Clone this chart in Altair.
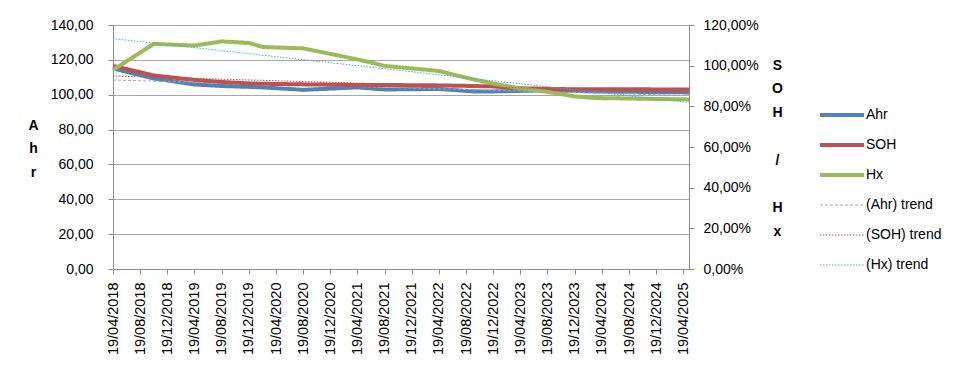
import altair as alt
import pandas as pd

# ---- data ----
dates = ["2018/04/19", "2018/10/19", "2019/04/19", "2019/08/19", "2019/12/19",
         "2020/02/19", "2020/08/19", "2021/04/19", "2021/08/19", "2022/04/19",
         "2022/09/19", "2022/12/19", "2023/04/19", "2023/08/19", "2023/12/19",
         "2024/03/19", "2025/05/15"]
ahr = [115.1, 109.3, 105.9, 105.0, 104.5, 104.2, 102.8, 104.2, 103.0, 103.3,
       101.9, 101.9, 102.2, 102.5, 102.2, 101.9, 101.3]
soh = [99.9, 95.2, 93.0, 92.0, 91.3, 91.1, 90.8, 90.5, 90.5, 90.3,
       90.0, 89.8, 88.9, 88.6, 88.4, 88.4, 88.3]          # percent
hx = [97.9, 110.7, 109.9, 111.9, 111.2, 109.2, 108.5, 103.1, 99.9, 97.4,
      93.3, 91.2, 88.8, 87.1, 84.9, 84.1, 83.4]            # percent

tick_years = [2018, 2018, 2018, 2019, 2019, 2019, 2020, 2020, 2020, 2021, 2021,
              2021, 2022, 2022, 2022, 2023, 2023, 2023, 2024, 2024, 2024, 2025]
tick_months = [4, 8, 12] * 7 + [4]

left_ticks = [0, 20, 40, 60, 80, 100, 120, 140]
right_ticks = [0, 0.2, 0.4, 0.6, 0.8, 1.0, 1.2]

series_names = ["Ahr", "SOH", "Hx", "(Ahr) trend", "(SOH) trend", "(Hx) trend"]
series_colors = ["#4F81BD", "#C0504D", "#9BBB59", "#A6A6A6", "#C0504D", "#4BACC6"]
series_widths = [4, 4, 4, 1, 1, 1]
series_dash = [[1, 0], [1, 0], [1, 0], [3, 2], [1.5, 1.5], [1.5, 1.5]]

BLANK = "\u200b"
left_title = ["A", "h", "r"]
right_title = ["S", "O", "H", BLANK, "/", BLANK, "H", "x"]

# ---- tables ----
left_df = pd.DataFrame({"date": dates, "series": "Ahr", "value": ahr})
right_df = pd.concat([
    pd.DataFrame({"date": dates, "series": "SOH", "value": [v / 100 for v in soh]}),
    pd.DataFrame({"date": dates, "series": "Hx", "value": [v / 100 for v in hx]}),
], ignore_index=True)

FONT = "Liberation Sans"
GREY = "#8C8C8C"

x_enc = alt.X(
    "ts:T",
    scale=alt.Scale(domain=[alt.DateTime(year=2018, month=4, date=19),
                            alt.DateTime(year=2025, month=5, date=15)]),
    axis=alt.Axis(
        values=[alt.DateTime(year=y, month=m, date=19) for y, m in zip(tick_years, tick_months)],
        format="%d/%m/%Y", labelAngle=270, title=None, grid=False,
        tickSize=5, labelPadding=8, labelFontSize=14.5,
        domainColor=GREY, tickColor=GREY,
    ),
)

y_left = alt.Y(
    "value:Q",
    scale=alt.Scale(domain=[0, 140], nice=False, zero=True),
    axis=alt.Axis(
        orient="left", values=left_ticks,
        labelExpr="replace(format(datum.value, '.2f'), '.', ',')",
        title=left_title, titleAngle=0, titleX=-80, titleY=100,
        titleAlign="center", titleBaseline="middle", titleLineHeight=23.8,
        titleFontWeight="bold", titleFontSize=14,
        grid=True, gridColor="#A6A6A6", domainColor=GREY, tickColor=GREY,
        tickSize=5, labelPadding=15,
    ),
)

y_right = alt.Y(
    "value:Q",
    scale=alt.Scale(domain=[0, 1.2], nice=False, zero=True),
    axis=alt.Axis(
        orient="right", values=right_ticks,
        labelExpr="replace(format(datum.value, '.2%'), '.', ',')",
        title=right_title, titleAngle=0,
        titleX=88, titleY=40, titleAlign="center", titleBaseline="middle",
        titleLineHeight=23.8, titleFontWeight="bold", titleFontSize=14,
        grid=False, domainColor=GREY, tickColor=GREY, tickSize=5, labelPadding=9,
    ),
)

legend = alt.Legend(
    title=None, orient="none", legendX=705, legendY=80,
    symbolType="stroke", symbolSize=1936, clipHeight=20, rowPadding=10,
    labelOffset=0, labelFontSize=14, labelFont=FONT, labelColor="black",
)

color_enc = alt.Color("series:N", scale=alt.Scale(domain=series_names, range=series_colors),
                      legend=legend, sort=series_names)
dash_enc = alt.StrokeDash("series:N", scale=alt.Scale(domain=series_names, range=series_dash),
                          legend=legend, sort=series_names)
width_enc = alt.StrokeWidth("series:N",
                            scale=alt.Scale(type="ordinal", domain=series_names, range=series_widths),
                            legend=legend, sort=series_names)


def lines(df, y_enc):
    return (alt.Chart(df)
            .transform_calculate(ts="time(toDate(datum.date))")
            .mark_line(strokeJoin="round", strokeCap="butt")
            .encode(x=x_enc, y=y_enc, color=color_enc, strokeDash=dash_enc,
                    strokeWidth=width_enc, detail="series:N"))


def trends(df, y_enc):
    return (alt.Chart(df)
            .transform_calculate(ts="time(toDate(datum.date))")
            .transform_regression(on="ts", regression="value", groupby=["series"])
            .transform_calculate(series="'(' + datum.series + ') trend'")
            .mark_line()
            .encode(x=x_enc, y=y_enc, color=color_enc, strokeDash=dash_enc,
                    strokeWidth=width_enc, detail="series:N"))


left_layer = alt.layer(lines(left_df, y_left), trends(left_df, y_left))
right_layer = alt.layer(lines(right_df, y_right), trends(right_df, y_right))

chart = (
    alt.layer(left_layer, right_layer)
    .resolve_scale(y="independent")
    .properties(
        width=576, height=244,
        autosize=alt.AutoSizeParams(type="none"),
        padding={"left": 113, "top": 25, "right": 280, "bottom": 117},
        background="white",
    )
    .configure_view(stroke=None)
    .configure_axis(labelFont=FONT, titleFont=FONT, labelColor="black",
                    titleColor="black", labelFontSize=14)
)

chart.save("out.html", embed_options={"renderer": "svg", "actions": False})
